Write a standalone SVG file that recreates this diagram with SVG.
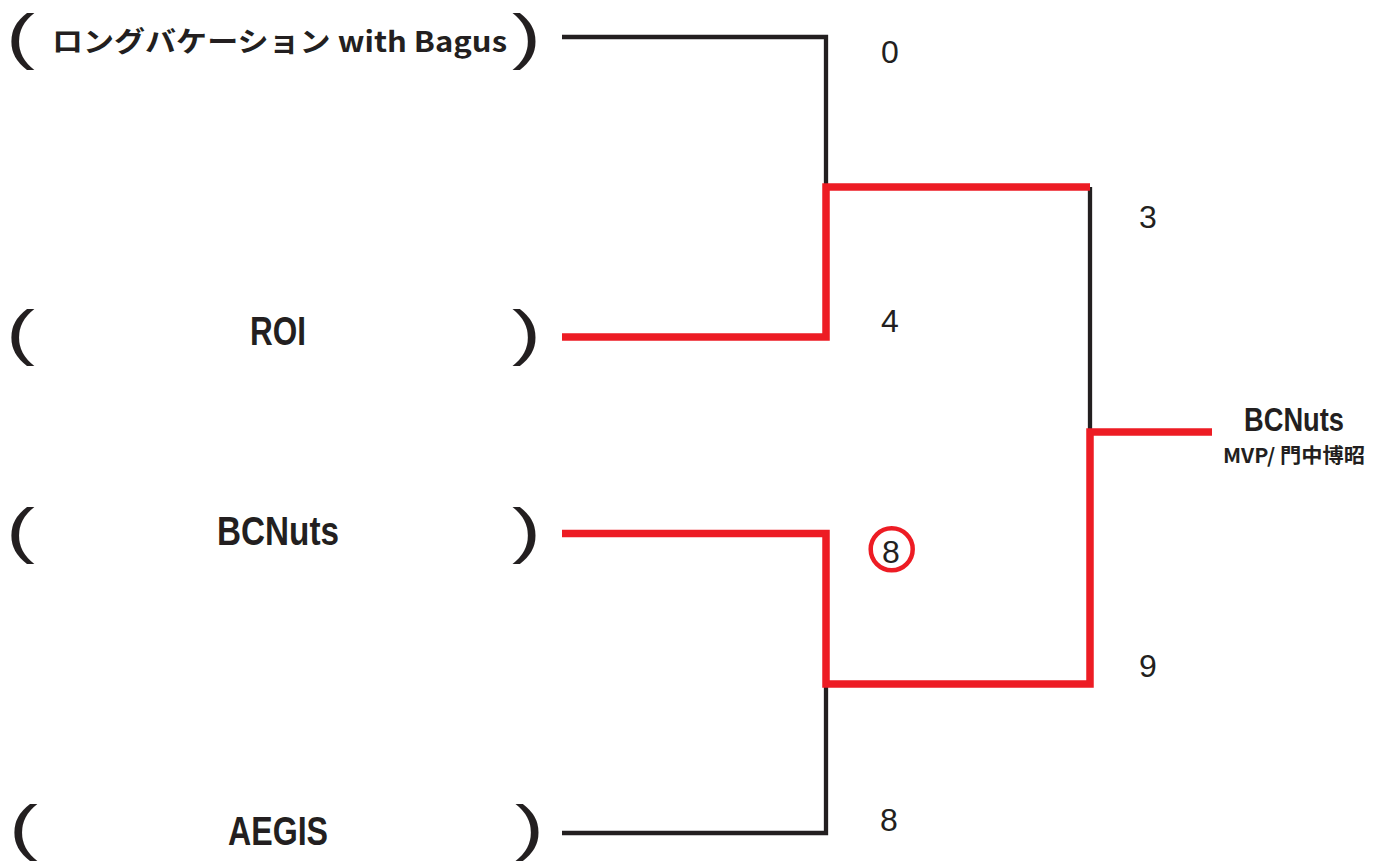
<svg xmlns="http://www.w3.org/2000/svg" width="1381" height="862" viewBox="0 0 1381 862">
<style>
.paren{font-family:"Liberation Sans",Arial,sans-serif;font-size:62px;fill:#231f20}
.name{font-family:"Liberation Sans","Noto Sans CJK JP",sans-serif;font-weight:bold;fill:#231f20;text-anchor:middle}
.jp{font-family:"Noto Sans CJK JP","Liberation Sans",sans-serif;font-weight:bold;fill:#231f20}
.score{font-family:"Liberation Sans",Arial,sans-serif;font-size:32px;fill:#231f20;text-anchor:middle}
.blk{fill:none;stroke:#231f20;stroke-width:4.3;stroke-linejoin:miter;stroke-linecap:butt}
.red{fill:none;stroke:#ed1c24;stroke-width:7.5;stroke-linejoin:miter;stroke-linecap:butt}
</style>
<rect width="1381" height="862" fill="#ffffff"/>
<g id="connectors">
<polyline class="blk" points="562,37 826,37 826,187"/>
<polyline class="blk" points="1090,187 1090,432"/>
<polyline class="blk" points="826,684 826,833 562,833"/>
<polyline class="red" points="562,337 826,337 826,187 1090,187"/>
<polyline class="red" points="562,533.5 826,533.5 826,684 1090,684 1090,432 1212,432"/>
</g>
<g id="team-longvacation">
<text class="paren" transform="translate(6,57) scale(1.4,1)">(</text>
<text class="jp" x="52" y="52" font-size="28" textLength="455" lengthAdjust="spacingAndGlyphs">ロングバケーション with Bagus</text>
<text class="paren" transform="translate(512,57) scale(1.4,1)">)</text>
</g>
<g id="team-roi">
<text class="paren" transform="translate(6,353) scale(1.4,1)">(</text>
<text class="name" x="278" y="345" font-size="40" textLength="56" lengthAdjust="spacingAndGlyphs">ROI</text>
<text class="paren" transform="translate(512,353) scale(1.4,1)">)</text>
</g>
<g id="team-bcnuts">
<text class="paren" transform="translate(6,551) scale(1.4,1)">(</text>
<text class="name" x="278" y="545" font-size="41" textLength="122" lengthAdjust="spacingAndGlyphs">BCNuts</text>
<text class="paren" transform="translate(512,551) scale(1.4,1)">)</text>
</g>
<g id="team-aegis">
<text class="paren" transform="translate(9,848) scale(1.4,1)">(</text>
<text class="name" x="278" y="845" font-size="41" textLength="100" lengthAdjust="spacingAndGlyphs">AEGIS</text>
<text class="paren" transform="translate(515,848) scale(1.4,1)">)</text>
</g>
<g id="scores">
<text class="score" x="890" y="63">0</text>
<text class="score" x="890" y="332">4</text>
<text class="score" x="1148" y="228">3</text>
<circle cx="891.7" cy="549.3" r="21" fill="none" stroke="#ed1c24" stroke-width="4.5"/>
<text class="score" x="891" y="563">8</text>
<text class="score" x="1148" y="677">9</text>
<text class="score" x="889" y="831">8</text>
</g>
<g id="champion">
<text class="name" x="1294" y="431" font-size="33" textLength="100" lengthAdjust="spacingAndGlyphs">BCNuts</text>
<text class="jp" x="1294" y="463" font-size="20" text-anchor="middle" textLength="142" lengthAdjust="spacingAndGlyphs">MVP/ 門中博昭</text>
</g>
</svg>
